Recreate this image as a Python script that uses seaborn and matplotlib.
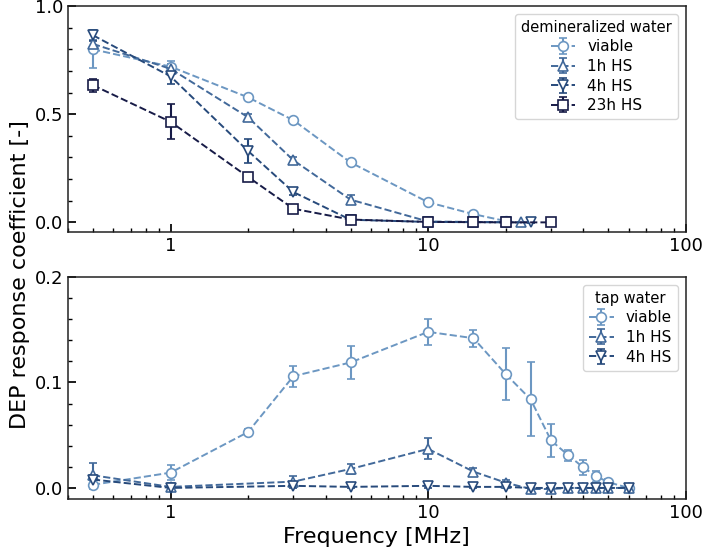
# DEP response coefficient vs frequency, demineralized vs tap water.
import matplotlib

matplotlib.use("Agg")
import matplotlib.pyplot as plt
from matplotlib.ticker import FixedLocator, LogLocator, MultipleLocator, NullFormatter
import seaborn as sns

# --- demineralized water ---
demi_labels = ["viable", "1h HS", "4h HS", "23h HS"]
demi_freq = [
    [0.5, 1, 2, 3, 5, 10, 15, 20],
    [0.5, 1, 2, 3, 5, 10, 15, 20, 23],
    [0.5, 1, 2, 3, 5, 10, 15, 20, 25],
    [0.5, 1, 2, 3, 5, 10, 15, 20, 30],
]
demi_val = [
    [0.80, 0.72, 0.578, 0.472, 0.277, 0.093, 0.038, 0.006],
    [0.825, 0.71, 0.486, 0.287, 0.105, 0.004, 0.002, 0.001, 0.0],
    [0.865, 0.675, 0.33, 0.14, 0.012, 0.002, 0.001, 0.0, 0.0],
    [0.634, 0.465, 0.21, 0.063, 0.013, 0.002, 0.001, 0.0, 0.0],
]
demi_err = [
    [0.085, 0.025, 0.012, 0.01, 0.012, 0.008, 0.006, 0.004],
    [0.02, 0.02, 0.015, 0.015, 0.022, 0.004, 0.002, 0.002, 0.002],
    [0.025, 0.035, 0.055, 0.015, 0.006, 0.002, 0.002, 0.002, 0.002],
    [0.03, 0.08, 0.012, 0.01, 0.008, 0.002, 0.002, 0.002, 0.002],
]

# --- tap water ---
tap_labels = ["viable", "1h HS", "4h HS"]
tap_freq = [
    [0.5, 1, 2, 3, 5, 10, 15, 20, 25, 30, 35, 40, 45, 50, 60],
    [0.5, 1, 3, 5, 10, 15, 20, 25, 30, 35, 40, 45, 50, 60],
    [0.5, 1, 3, 5, 10, 15, 20, 25, 30, 35, 40, 45, 50, 60],
]
tap_val = [
    [0.003, 0.0145, 0.053, 0.106, 0.119, 0.148, 0.142, 0.108, 0.084, 0.045,
     0.031, 0.0195, 0.011, 0.0055, 0.0],
    [0.012, 0.001, 0.006, 0.018, 0.037, 0.0155, 0.005, -0.001, -0.001, 0.0,
     0.0, 0.0, 0.0, 0.0],
    [0.008, 0.0, 0.002, 0.001, 0.002, 0.001, 0.001, 0.0, 0.0, 0.0,
     0.0, 0.0, 0.0, 0.0],
]
tap_err = [
    [0.004, 0.007, 0.003, 0.01, 0.016, 0.012, 0.008, 0.025, 0.035, 0.016,
     0.005, 0.007, 0.005, 0.003, 0.001],
    [0.012, 0.004, 0.005, 0.005, 0.01, 0.003, 0.003, 0.003, 0.003, 0.002,
     0.002, 0.002, 0.002, 0.002],
    [0.004, 0.002, 0.002, 0.001, 0.002, 0.001, 0.001, 0.001, 0.001, 0.001,
     0.001, 0.001, 0.001, 0.001],
]

colors = ["#6c97c2", "#42699a", "#274a7b", "#171b47"]
markers = ["o", "^", "v", "s"]

sns.set_theme(style="ticks")
plt.rcParams["font.family"] = ["DejaVu Sans"]
plt.rcParams.update({
    "xtick.direction": "in", "ytick.direction": "in",
    "xtick.major.size": 6, "ytick.major.size": 6,
    "xtick.minor.size": 3, "ytick.minor.size": 3,
    "xtick.labelsize": 13, "ytick.labelsize": 13,
    "xtick.color": "black", "ytick.color": "black",
    "text.color": "black", "axes.labelcolor": "black",
    "axes.edgecolor": "#222222", "axes.linewidth": 1.1,
})

fig = plt.figure(figsize=(7.06, 5.5), dpi=100)
ax1 = fig.add_axes([0.0963, 0.578, 0.875, 0.411])
ax2 = fig.add_axes([0.0963, 0.0927, 0.875, 0.4036])


def draw(ax, labels, freqs, vals, errs):
    for i, lab in enumerate(labels):
        ax.errorbar(freqs[i], vals[i], yerr=errs[i], label=lab, color=colors[i],
                    marker=markers[i], ms=7, mfc="white", mew=1.2, ls="--", lw=1.4,
                    elinewidth=1.5, capsize=3, capthick=1.3)
    ax.set_xscale("log")
    ax.set_xlim(0.4, 100)
    ax.xaxis.set_major_locator(FixedLocator([1, 10, 100]))
    ax.set_xticklabels(["1", "10", "100"])
    ax.xaxis.set_minor_locator(LogLocator(base=10, subs=range(2, 10), numticks=20))
    ax.xaxis.set_minor_formatter(NullFormatter())


draw(ax1, demi_labels, demi_freq, demi_val, demi_err)
ax1.set_ylim(-0.045, 1.0)
ax1.yaxis.set_major_locator(MultipleLocator(0.5))
ax1.yaxis.set_minor_locator(MultipleLocator(0.1))
ax1.legend(title="demineralized water", loc="upper right", fontsize=11,
           title_fontsize=10.5, handlelength=1.6, borderpad=0.4, labelspacing=0.3)

draw(ax2, tap_labels, tap_freq, tap_val, tap_err)
ax2.set_ylim(-0.0105, 0.2)
ax2.yaxis.set_major_locator(MultipleLocator(0.1))
ax2.yaxis.set_minor_locator(MultipleLocator(0.02))
ax2.legend(title="tap water", loc="upper right", fontsize=11,
           title_fontsize=10.5, handlelength=1.6, borderpad=0.4, labelspacing=0.3)
ax2.set_xlabel("Frequency [MHz]", fontsize=16)

fig.text(0.028, 0.5, "DEP response coefficient [-]", rotation=90, fontsize=16,
         ha="center", va="center")

fig.savefig("out.png", dpi=100)
